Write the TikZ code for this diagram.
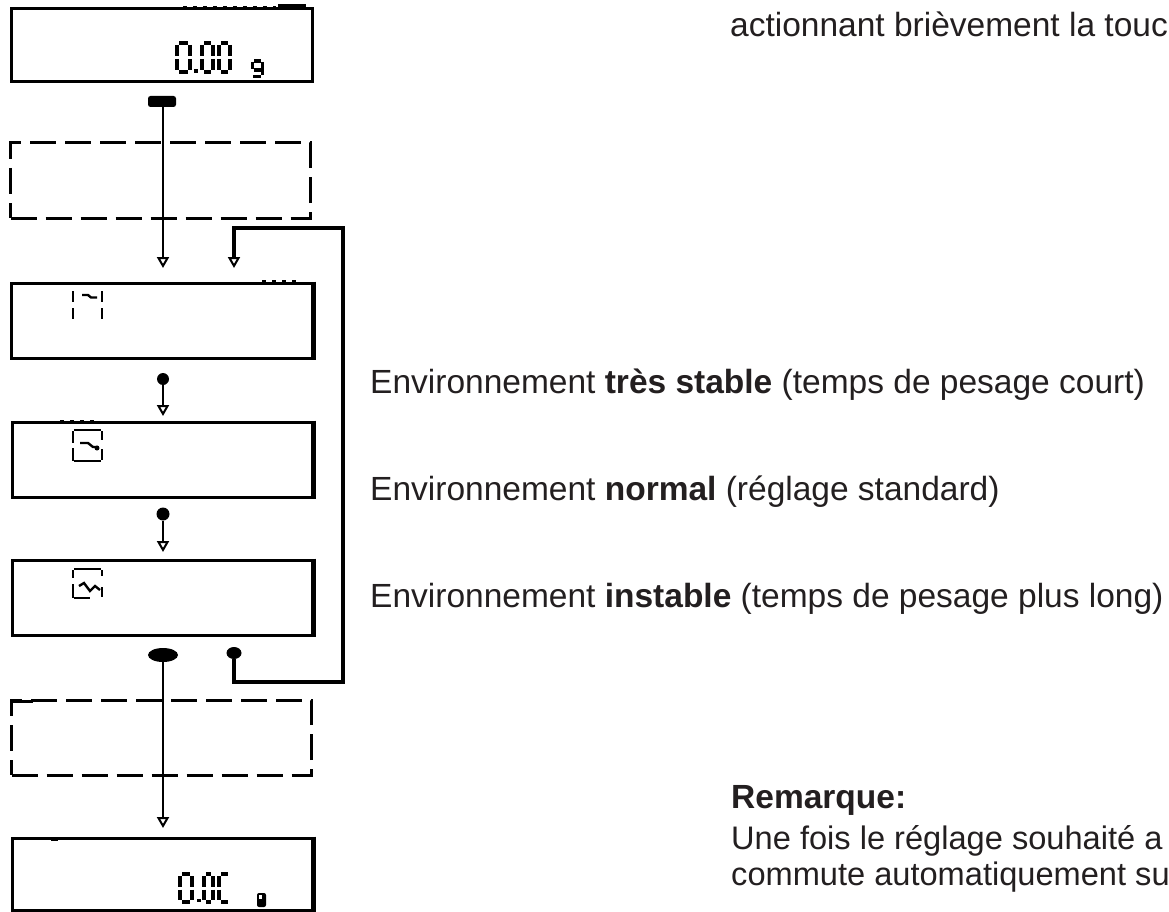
\documentclass[tikz,border=0pt]{standalone}
\usepackage{fontspec}
\setmainfont{Liberation Sans}
\usetikzlibrary{arrows.meta,shapes.geometric}
\definecolor{ink}{RGB}{0,0,0}
\definecolor{txt}{RGB}{35,31,32}

% seven-segment "0": x, y (top left), width, height
\newcommand\lcdzero[4]{%
  \draw[seg] ({#1+2},#2) -- ({#1+#3-2},#2);
  \draw[seg] ({#1+2},{#2+#4}) -- ({#1+#3-2},{#2+#4});
  \draw[seg] (#1,{#2+2}) -- (#1,{#2+#4/2-1.5});
  \draw[seg] (#1,{#2+#4/2+1.5}) -- (#1,{#2+#4-2});
  \draw[seg] ({#1+#3},{#2+2}) -- ({#1+#3},{#2+#4/2-1.5});
  \draw[seg] ({#1+#3},{#2+#4/2+1.5}) -- ({#1+#3},{#2+#4-2});
}
% seven-segment "C"
\newcommand\lcdcee[4]{%
  \draw[seg] ({#1+2},#2) -- ({#1+#3-2},#2);
  \draw[seg] ({#1+2},{#2+#4}) -- ({#1+#3-2},{#2+#4});
  \draw[seg] (#1,{#2+2}) -- (#1,{#2+#4/2-1.5});
  \draw[seg] (#1,{#2+#4/2+1.5}) -- (#1,{#2+#4-2});
}

\tikzset{
  lcdbox/.style={draw=ink, line width=3pt, inner sep=0pt, minimum width=301pt, minimum height=75pt},
  dashbox/.style={draw=ink, line width=3pt, dash pattern=on 26pt off 9pt, inner sep=0pt, minimum width=300pt, minimum height=75pt},
  flow/.style={draw=ink, line width=2.6pt, -{Triangle[open, length=11pt, width=12pt, line width=2pt]}},
  backflow/.style={flow, line width=3.4pt},
  seg/.style={draw=ink, line width=3.2pt, line cap=butt},
  icon/.style={draw=ink, line width=2.4pt, line cap=butt},
  indic/.style={draw=ink, line width=2.5pt, dash pattern=on 4pt off 6pt},
  label/.style={anchor=base west, inner sep=0pt, text=txt, font=\fontsize{33.5}{40}\selectfont},
  note/.style={label, font=\fontsize{32.6}{40}\selectfont},
  keybar/.style={fill=ink, rounded corners=2.5pt, minimum width=28pt, minimum height=11pt, inner sep=0pt},
  knob/.style={circle, fill=ink, minimum size=12pt, inner sep=0pt},
  blob/.style={ellipse, fill=ink, minimum width=30pt, minimum height=14pt, inner sep=0pt},
}

\begin{document}
\begin{tikzpicture}[x=1pt, y=-1pt]
\useasboundingbox[fill=white] (0,0) rectangle (1169,912);

% ---------- display panels ----------
\node[lcdbox, minimum height=73pt] (b1) at (161.5,45.5) {};
\node[dashbox] (d1) at (160.5,180.5) {};
\node[lcdbox] (b3) at (162,320.5) {};
\node[lcdbox] (b4) at (162.5,459.5) {};
\node[lcdbox] (b5) at (162.5,597.5) {};
\node[dashbox] (d2) at (161.5,737.5) {};
\node[lcdbox, minimum height=72pt] (b6) at (162.5,874) {};

% heavier right borders
\foreach \b in {b3,b4,b5,b6}
  \draw[ink, line width=5pt] ([xshift=-1pt]\b.north east) -- ([xshift=-1pt]\b.south east);

% indicator marks along the top edges
\draw[indic] (183,7) -- (276,7);
\draw[ink, line width=4pt] (278,6.5) -- (306,6.5);
\draw[indic] (262,281) -- (300,281);
\draw[indic] (60,421) -- (98,421);
\draw[indic] (175,561) -- (290,561);
\draw[ink, line width=3pt] (13,701.5) -- (33,701.5);
\draw[ink, line width=2.5pt] (51,840) -- (58,840);

% ---------- readouts ----------
\lcdzero{177}{43}{13}{29}
\fill[ink] (194,69.5) rectangle (197.5,73);
\lcdzero{202}{43}{11}{29}
\lcdzero{219}{43}{11}{29}
% unit g
\draw[seg] (254,61) -- (261,61);
\draw[seg] (252.5,62) -- (252.5,69);
\draw[seg] (262.5,62) -- (262.5,75);
\draw[seg] (254,70) -- (261,70);
\draw[seg] (253,76.5) -- (261,76.5);

\lcdzero{180}{874}{12}{28}
\fill[ink] (197,898.5) rectangle (200.5,902);
\lcdzero{204}{874}{9}{28}
\lcdcee{219}{874}{11}{28}
\fill[ink, rounded corners=2pt] (257,893) rectangle (266,907);
\fill[white] (259,895) rectangle (262,899);

% ---------- stability icons ----------
% very stable
\draw[icon] (73,291) -- (73,302);
\draw[icon] (73,308) -- (73,319);
\draw[icon] (102,291) -- (102,302);
\draw[icon] (102,308) -- (102,319);
\draw[icon] (82,295) -- (88,295) -- (91,297.5) -- (97,297.5);
% normal
\draw[icon] (74,430) -- (101,430);
\draw[icon] (73,431) -- (73,443);
\draw[icon] (73,448) -- (73,461);
\draw[icon] (102,431) -- (102,440);
\draw[icon] (102,449) -- (102,460);
\draw[icon] (74,461) -- (101,461);
\draw[icon] (80,443) -- (88,443) -- (93,447) -- (98,447);
\fill[ink] (97,448) circle (2.5pt);
% unstable
\draw[icon] (74,569) -- (101,569);
\draw[icon] (73,570) -- (73,578);
\draw[icon] (102,570) -- (102,576);
\draw[icon] (73,584) -- (73,598);
\draw[icon] (74,598) -- (90,598);
\draw[icon] (79,586) -- (84,583) -- (90,591) -- (95,586) -- (100,590);
\draw[icon] (102,587) -- (102,597);

% ---------- key presses and flow ----------
\node[keybar] (k1) at (162,101.5) {};
\coordinate (t3) at (163,268);
\draw[flow] (k1.south -| t3) -- (t3);

\node[knob] (k34) at (163,379) {};
\coordinate (t4) at (163,416);
\draw[flow] (k34) -- (t4);

\node[knob, minimum size=13pt] (k45) at (163,514) {};
\coordinate (t5) at (163,552);
\draw[flow] (k45) -- (t5);

\node[blob] (k56) at (163,655) {};
\coordinate (t6) at (163,828);
\draw[flow] (k56) -- (t6);

% return path to the first setting
\node[ellipse, fill=ink, minimum width=15pt, minimum height=12pt, inner sep=0pt] (kl) at (234,653) {};
\coordinate (tl) at (234,268);
\coordinate (c1) at (234,682);
\coordinate (c2) at (343,682);
\coordinate (c3) at (343,228);
\coordinate (c4) at (234,228);
\draw[backflow] (kl) -- (c1) -- (c2) -- (c3) -- (c4) -- (tl);

% ---------- text ----------
\node[label] (l0) at (730,37) {actionnant brièvement la touc};
\node[label] (l1) at (370,393) {Environnement \textbf{très stable} (temps de pesage court)};
\node[label] (l2) at (370,500) {Environnement \textbf{normal} (réglage standard)};
\node[label] (l3) at (370,607) {Environnement \textbf{instable} (temps de pesage plus long)};
\node[label] (l4) at (731,808) {\textbf{Remarque:}};
\node[note] (l5) at (731,849) {Une fois le réglage souhaité a};
\node[note] (l6) at (731,885) {commute automatiquement su};
\end{tikzpicture}
\end{document}
